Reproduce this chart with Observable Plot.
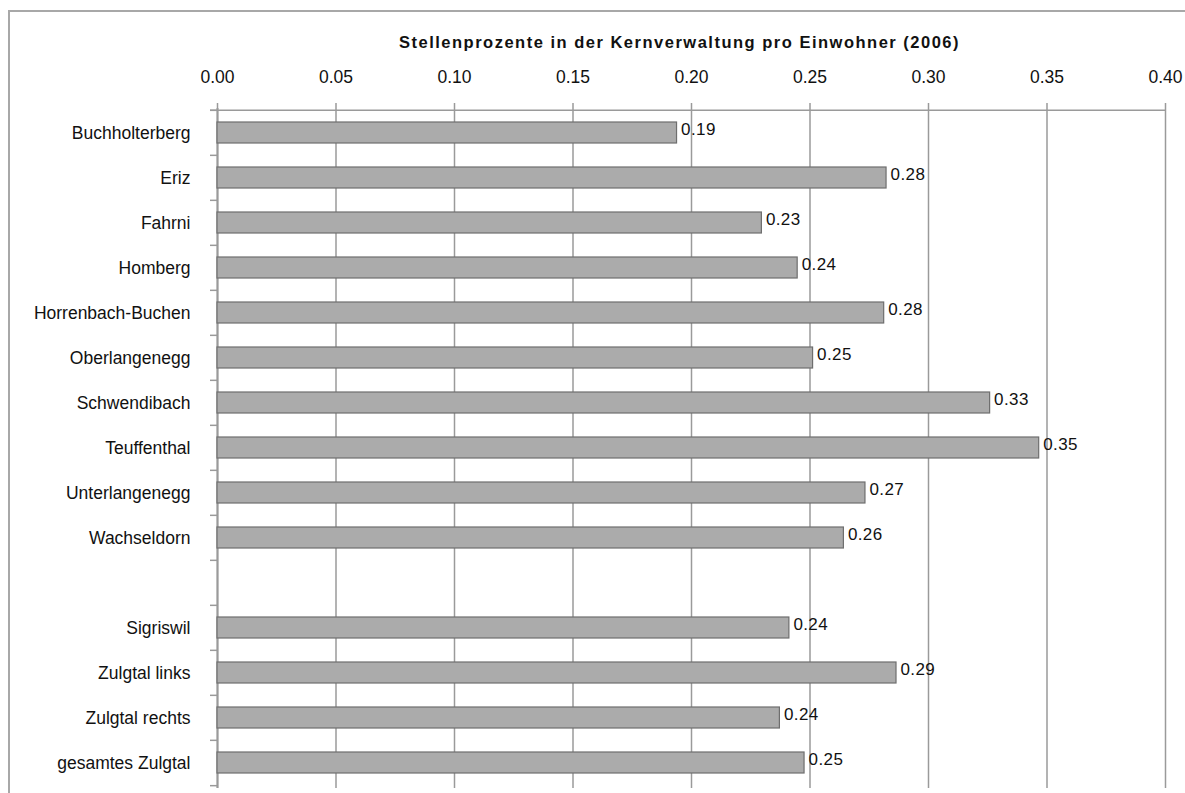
<!DOCTYPE html>
<html>
<head>
<meta charset="utf-8">
<script src="https://cdn.jsdelivr.net/npm/d3@7"></script>
<script src="https://cdn.jsdelivr.net/npm/@observablehq/plot@0.6"></script>
<style>
  html, body { margin: 0; padding: 0; background: #fff; }
  #wrap { position: relative; width: 1185px; height: 793px; overflow: hidden; }
  #frame { position: absolute; left: 8px; top: 10px; width: 3000px; height: 3000px;
           border-left: 2px solid #a8a8a8; border-top: 2px solid #a8a8a8; pointer-events: none; }
  g[aria-description="chart-title"] text { letter-spacing: 1.5px; }
  g[aria-description="value-labels"] text { letter-spacing: 0.4px; }
</style>
</head>
<body>
<div id="wrap"><div id="frame"></div></div>
<script>
const title = "Stellenprozente in der Kernverwaltung pro Einwohner (2006)";
const categories = [
  "Buchholterberg", "Eriz", "Fahrni", "Homberg", "Horrenbach-Buchen",
  "Oberlangenegg", "Schwendibach", "Teuffenthal", "Unterlangenegg", "Wachseldorn",
  " ",
  "Sigriswil", "Zulgtal links", "Zulgtal rechts", "gesamtes Zulgtal"
];
const values = [
  0.1939, 0.2823, 0.2297, 0.2448, 0.2813,
  0.2513, 0.3260, 0.3467, 0.2734, 0.2643,
  null,
  0.2413, 0.2865, 0.2373, 0.2477
];
const xTicks = [0, 0.05, 0.10, 0.15, 0.20, 0.25, 0.30, 0.35, 0.40];

const data = categories.map((c, i) => ({cat: c, v: values[i]})).filter(d => d.v != null);
const step = (788 - 108) / categories.length;

const chart = Plot.plot({
  width: 1185,
  height: 793,
  marginLeft: 217,
  marginRight: 20,
  marginTop: 108,
  marginBottom: 5,
  style: {background: "transparent", fontFamily: "Liberation Sans, Arial, sans-serif", color: "#111"},
  x: {domain: [0, 0.4]},
  y: {domain: categories, paddingInner: 0.53, paddingOuter: 0.265},
  marks: [
    Plot.ruleX(xTicks, {stroke: "#9a9a9a", strokeWidth: 1.5, insetTop: -5}),
    Plot.axisX({anchor: "top", ticks: xTicks, tickFormat: d3.format(".2f"), tickSize: 0,
                tickPadding: 26, fontSize: 17.5, label: null, color: "#111"}),
    Plot.text([title], {frameAnchor: "top", dy: -72, dx: -12, fontSize: 16.5, fontWeight: "bold",
                        fill: "#111", ariaDescription: "chart-title"}),
    Plot.axisY({ticks: categories, tickSize: 0, tickPadding: 27, fontSize: 17.5, label: null,
                textAnchor: "end", color: "#111"}),
    Plot.ruleY(categories, {y: d => d, x1: 0, x2: 0, insetLeft: -7, dy: -step / 2, stroke: "#9a9a9a", strokeWidth: 1.5}),
    Plot.ruleY([categories[categories.length - 1]], {y: d => d, x1: 0, x2: 0, insetLeft: -7, dy: step / 2, stroke: "#9a9a9a", strokeWidth: 1.5}),
    Plot.ruleY([categories[0]], {y: d => d, x1: 0, x2: 0.4, insetLeft: -7, dy: -step / 2, stroke: "#9a9a9a", strokeWidth: 1.5}),
    Plot.ruleX([0], {stroke: "#9a9a9a", strokeWidth: 2}),
    Plot.barX(data, {y: "cat", x: "v", fill: "#ababab", stroke: "#6e6e6e", strokeWidth: 1.2}),
    Plot.text(data, {y: "cat", x: "v", text: d => d.v.toFixed(2), textAnchor: "start", dx: 4, dy: -3,
                     fontSize: 17, fill: "#111", ariaDescription: "value-labels"})
  ]
});
document.getElementById("wrap").prepend(chart);
</script>
</body>
</html>
